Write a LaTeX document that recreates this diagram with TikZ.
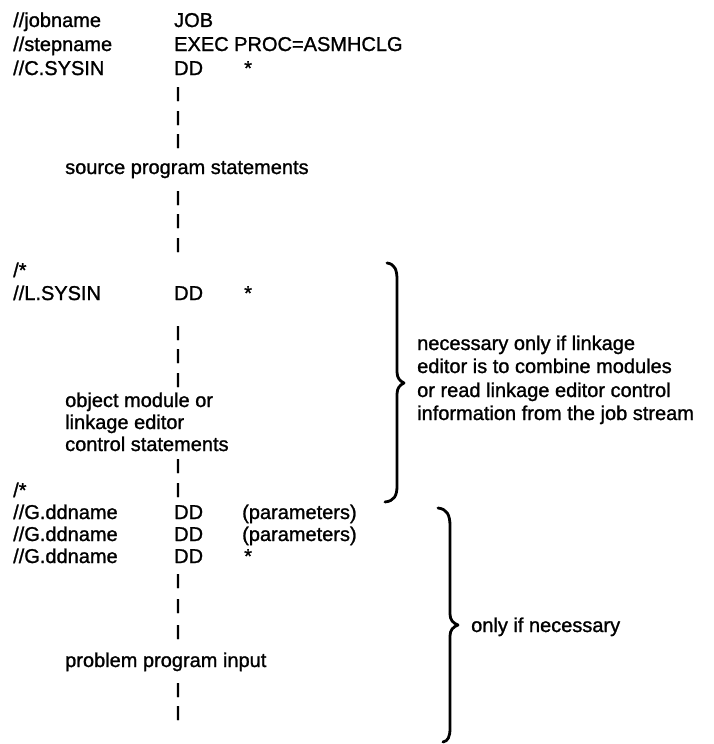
\documentclass[tikz,border=0pt]{standalone}
\usepackage{fontspec}
\setmainfont{Liberation Sans}[FakeBold=1.2]
\begin{document}
\begin{tikzpicture}[x=1pt,y=-1pt,
  txt/.style={inner sep=0pt, anchor=base west, font=\fontsize{20}{23}\selectfont},
  brace/.style={line width=2.8pt, line cap=round, line join=round}]
\useasboundingbox (0,0) rectangle (714,744);
% header
\node[txt] (jn) at (13,27) {//jobname};
\node[txt] (job) at (174,27) {JOB};
\node[txt] (sn) at (13,51) {//stepname};
\node[txt] (exec) at (174,51) {EXEC PROC=ASMHCLG};
\node[txt] (cs) at (13,75) {//C.SYSIN};
\node[txt] (cdd) at (174,75) {DD};
\node[txt] (cst) at (244,75) {*};
\node[txt] (b1) at (175,101) {I};
\node[txt] (b2) at (175,125) {I};
\node[txt] (b3) at (175,148) {I};
\node[txt] (src) at (65,174) {source program statements};
\node[txt] (b4) at (175,205) {I};
\node[txt] (b5) at (175,228) {I};
\node[txt] (b6) at (175,252) {I};
% L step
\node[txt] (e1) at (13,277) {/*};
\node[txt] (ls) at (13,300) {//L.SYSIN};
\node[txt] (ldd) at (174,300) {DD};
\node[txt] (lst) at (244,300) {*};
\node[txt] (b7) at (175,340) {I};
\node[txt] (b8) at (175,363) {I};
\node[txt] (b9) at (175,387) {I};
\node[txt] (ob1) at (65,407) {object module or};
\node[txt] (ob2) at (65,429) {linkage editor};
\node[txt] (ob3) at (65,451) {control statements};
\node[txt] (b10) at (175,473) {I};
\node[txt] (e2) at (13,497) {/*};
\node[txt] (b11) at (175,497) {I};
% G step
\node[txt] (g1) at (13,519) {//G.ddname};
\node[txt] (g1d) at (174,519) {DD};
\node[txt] (g1p) at (242,519) {(parameters)};
\node[txt] (g2) at (13,541) {//G.ddname};
\node[txt] (g2d) at (174,541) {DD};
\node[txt] (g2p) at (242,541) {(parameters)};
\node[txt] (g3) at (13,563) {//G.ddname};
\node[txt] (g3d) at (174,563) {DD};
\node[txt] (g3s) at (244,563) {*};
\node[txt] (b12) at (175,588) {I};
\node[txt] (b13) at (175,613) {I};
\node[txt] (b14) at (175,639) {I};
\node[txt] (ppi) at (65,667) {problem program input};
\node[txt] (b15) at (175,697) {I};
\node[txt] (b16) at (175,720) {I};
% brace 1
\draw[brace] (387,263) .. controls (395,264) and (397,270) .. (397,280) -- (397,372)
  .. controls (397,378) and (400,381) .. (404,383)
  .. controls (400,385) and (397,388) .. (397,394) -- (397,486)
  .. controls (397,496) and (394,501) .. (385,502);
\node[txt] (n1) at (417,350) {necessary only if linkage};
\node[txt] (n2) at (417,373) {editor is to combine modules};
\node[txt] (n3) at (417,397) {or read linkage editor control};
\node[txt] (n4) at (417,420) {information from the job stream};
% brace 2
\draw[brace] (438,508) .. controls (447,509) and (450,515) .. (450,526) -- (450,614)
  .. controls (450,620) and (453,623) .. (458,625)
  .. controls (453,627) and (450,630) .. (450,636) -- (450,728)
  .. controls (450,737) and (448,741) .. (443,742);
\node[txt] (oin) at (471,632) {only if necessary};
\end{tikzpicture}
\end{document}
